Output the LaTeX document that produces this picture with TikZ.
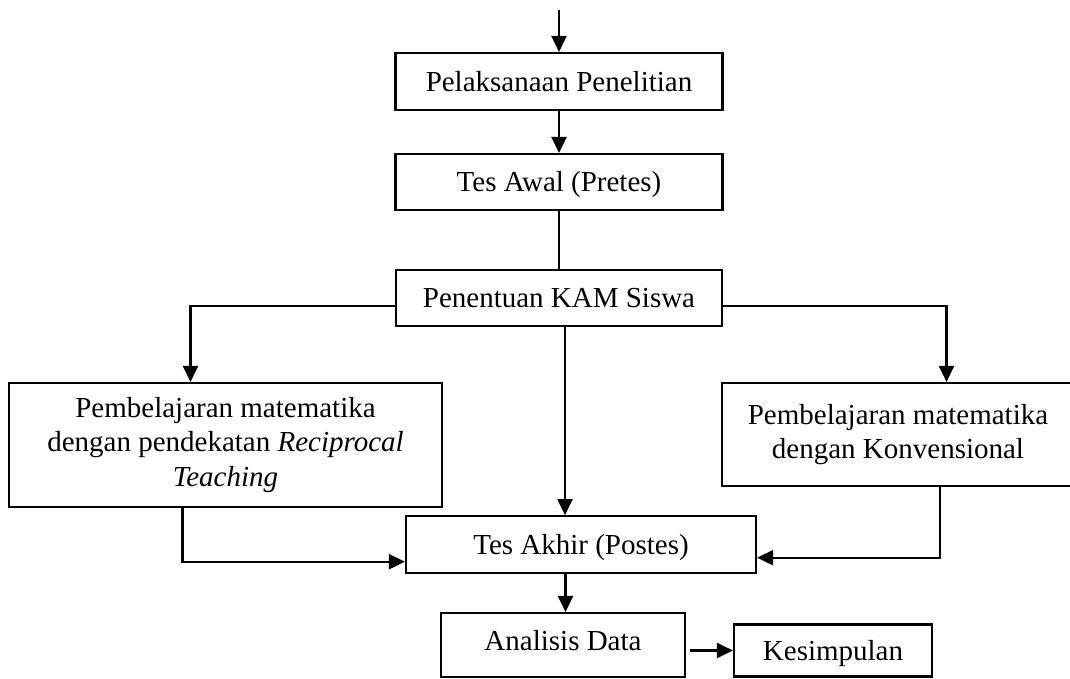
\documentclass[tikz,border=0pt]{standalone}
\usepackage{fontspec}
\setmainfont{Liberation Serif}
\usetikzlibrary{arrows.meta}

\begin{document}
\begin{tikzpicture}[
    >={Triangle[length=0.32cm,width=0.3cm]},
    line width=1.2pt,
    every node/.style={font=\fontsize{16.5pt}{19.4pt}\selectfont},
    stepbox/.style={draw, line width=1.2pt, inner sep=0pt, align=center},
    onebox/.style={stepbox, text height=11.2pt, text depth=0pt},
  ]

  % page frame (1070 x 678 px at 0.02 cm per px)
  \useasboundingbox (0,0) rectangle (21.4,13.56);

  % ------------------------------------------------------------------
  % main column
  % ------------------------------------------------------------------
  \def\xc{11.18}       % centre of the upper boxes

  \coordinate (start) at (\xc,13.36);
  \node[onebox, minimum width=6.54cm, minimum height=1.14cm]
       (pelaksanaan) at (\xc,11.93) {Pelaksanaan Penelitian};
  \node[onebox, minimum width=6.54cm, minimum height=1.12cm]
       (pretes) at (\xc,9.92) {Tes Awal (Pretes)};
  \node[onebox, minimum width=6.52cm, minimum height=1.12cm]
       (kam) at (\xc,7.6) {Penentuan KAM Siswa};

  % ------------------------------------------------------------------
  % the two learning groups
  % ------------------------------------------------------------------
  \node[stepbox, minimum width=8.66cm, minimum height=2.48cm]
       (reciprocal) at (4.51,4.66)
       {Pembelajaran matematika\\dengan pendekatan \textit{Reciprocal}\\\textit{Teaching}};
  \node[stepbox, minimum width=7.04cm, minimum height=2.06cm]
       (konvensional) at (17.96,4.87)
       {Pembelajaran matematika\\dengan Konvensional};

  % ------------------------------------------------------------------
  % posttest, analysis, conclusion
  % ------------------------------------------------------------------
  \node[onebox, minimum width=7.0cm, minimum height=1.14cm]
       (postes) at (11.62,2.666) {Tes Akhir (Postes)};
  \node[onebox, text depth=4.5pt, minimum width=4.88cm, minimum height=1.28cm]
       (analisis) at (11.26,0.66) {Analisis Data};
  \node[onebox, minimum width=3.96cm, minimum height=1.04cm]
       (kesimpulan) at (16.66,0.55) {Kesimpulan};

  % connectors
  \draw[->] (start) -- (pelaksanaan);
  \draw[->] (pelaksanaan) -- (pretes);
  \draw (pretes) -- (kam);
  \draw[->] ([yshift=-0.16cm]kam.west) -| ([xshift=-0.7cm]reciprocal.north);
  \draw[->] ([yshift=-0.16cm]kam.east) -| ([xshift=0.97cm]konvensional.north);
  \draw[->] ([xshift=0.12cm]kam.south) -- ([xshift=0.12cm]kam.south |- postes.north);
  \draw[->] ([xshift=-0.86cm]reciprocal.south) |- ([yshift=-0.34cm]postes.west);
  \draw[->] ([xshift=0.84cm]konvensional.south) |- ([yshift=-0.26cm]postes.east);
  \draw[->] ([xshift=-0.31cm]postes.south) -- ([xshift=-0.31cm]postes.south |- analisis.north);
  \draw[->] ([xshift=0.07cm]analisis.east |- kesimpulan.west) -- (kesimpulan.west);

\end{tikzpicture}
\end{document}
